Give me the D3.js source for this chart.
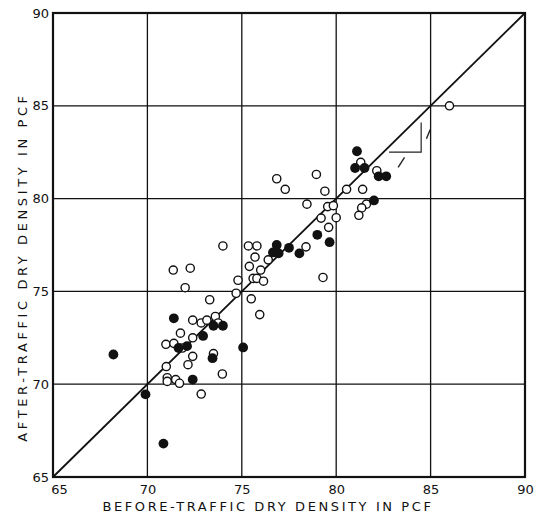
<!DOCTYPE html>
<html>
<head>
<meta charset="utf-8">
<script src="https://cdn.jsdelivr.net/npm/d3@7/dist/d3.min.js"></script>
<style>
  html, body { margin: 0; padding: 0; background: #fff; }
  svg { display: block; }
  text { font-family: "DejaVu Sans", sans-serif; fill: #111; }
</style>
</head>
<body>
<svg id="chart" width="539" height="519"></svg>
<script>
// Before/after traffic dry density (pcf)
const tickValues = [65, 70, 75, 80, 85, 90];
const xTitle = "BEFORE-TRAFFIC DRY DENSITY IN PCF";
const yTitle = "AFTER-TRAFFIC DRY DENSITY IN PCF";

// open circles: [before, after]
const openPoints = [
  [86.0, 85.0], [81.3, 81.95], [82.15, 81.5], [80.55, 80.5], [81.4, 80.5],
  [78.95, 81.3], [76.85, 81.07], [77.3, 80.5], [79.4, 80.4], [78.45, 79.7],
  [79.55, 79.57], [79.85, 79.62], [81.6, 79.7], [81.35, 79.5], [79.2, 78.95],
  [80.0, 78.97], [81.2, 79.1], [79.6, 78.45], [78.4, 77.4], [74.0, 77.45],
  [75.35, 77.45], [75.8, 77.45], [75.7, 76.85], [76.4, 76.7], [75.4, 76.35],
  [76.0, 76.15], [75.6, 75.7], [75.8, 75.7], [76.15, 75.55], [74.8, 75.6],
  [79.3, 75.75], [74.7, 74.9], [75.5, 74.6], [75.95, 73.75], [73.3, 74.55],
  [71.37, 76.15], [72.27, 76.25], [72.0, 75.2], [72.4, 73.45], [72.85, 73.3],
  [73.15, 73.45], [73.6, 73.65], [73.75, 73.3], [71.75, 72.75], [72.4, 72.5],
  [70.98, 72.15], [71.4, 72.2], [71.85, 71.95], [72.4, 71.5], [73.5, 71.65],
  [72.15, 71.05], [71.0, 70.95], [73.97, 70.55], [71.05, 70.35], [71.05, 70.15],
  [71.5, 70.25], [71.7, 70.05], [72.85, 69.47]
];

// filled circles: [before, after]
const filledPoints = [
  [81.1, 82.55], [81.0, 81.65], [81.5, 81.65], [82.25, 81.2], [82.65, 81.2],
  [82.0, 79.9], [79.0, 78.05], [79.65, 77.65], [78.05, 77.05], [77.5, 77.35],
  [76.85, 77.5], [76.65, 77.1], [76.95, 77.05], [71.4, 73.55], [72.95, 72.6],
  [73.5, 73.15], [74.0, 73.15], [72.1, 72.05], [71.65, 71.95], [73.45, 71.4],
  [75.07, 71.98], [72.4, 70.25], [68.2, 71.6], [69.9, 69.45], [70.85, 66.8]
];

// line of equality and the small 1:1 slope mark beneath it
const equalityLine = [[65, 65], [90, 90]];
const slopeMark = [[82.8, 82.5], [84.5, 82.5], [84.5, 84.1]];
const slopeTicks = [
  [[83.28, 81.68], [83.62, 82.22]],
  [[84.78, 83.22], [84.98, 83.72]]
];

const svg = d3.select("#chart");
const plotLeft = 53, plotRight = 525, plotTop = 13, plotBottom = 477;

const x = d3.scaleLinear().domain([65, 90]).range([plotLeft, plotRight]);
const y = d3.scaleLinear().domain([65, 90]).range([plotBottom, plotTop]);

// grid lines
const g = svg.append("g");
g.selectAll("line.vgrid")
  .data(tickValues.slice(1, -1))
  .join("line")
  .attr("class", "vgrid")
  .attr("x1", d => x(d)).attr("x2", d => x(d))
  .attr("y1", plotTop).attr("y2", plotBottom)
  .attr("stroke", "#111").attr("stroke-width", 1.3);
g.selectAll("line.hgrid")
  .data(tickValues.slice(1, -1))
  .join("line")
  .attr("class", "hgrid")
  .attr("y1", d => y(d)).attr("y2", d => y(d))
  .attr("x1", plotLeft).attr("x2", plotRight)
  .attr("stroke", "#111").attr("stroke-width", 1.3);

// axes (labels only)
const xAxis = svg.append("g")
  .attr("transform", `translate(0,${plotBottom})`)
  .call(d3.axisBottom(x).tickValues(tickValues).tickSize(0).tickPadding(8).tickFormat(d3.format("d")));
const yAxis = svg.append("g")
  .attr("transform", `translate(${plotLeft},0)`)
  .call(d3.axisLeft(y).tickValues(tickValues).tickSize(0).tickPadding(4).tickFormat(d3.format("d")));
[xAxis, yAxis].forEach(a => {
  a.select(".domain").remove();
  a.selectAll("text").style("font-size", "13px").style("font-family", "'DejaVu Sans', sans-serif").attr("fill", "#111");
});
// keep the first x label clear of the y label at the corner
xAxis.selectAll(".tick").filter(d => d === 65).select("text").attr("dx", 6);

// plot frame
svg.append("rect")
  .attr("x", plotLeft).attr("y", plotTop)
  .attr("width", plotRight - plotLeft).attr("height", plotBottom - plotTop)
  .attr("fill", "none").attr("stroke", "#111").attr("stroke-width", 2.2);

const line = d3.line().x(d => x(d[0])).y(d => y(d[1]));

svg.append("path")
  .attr("d", line(equalityLine))
  .attr("fill", "none").attr("stroke", "#111").attr("stroke-width", 1.8);

svg.append("path")
  .attr("d", line(slopeMark))
  .attr("fill", "none").attr("stroke", "#222").attr("stroke-width", 1.2);
svg.selectAll("path.slope-tick")
  .data(slopeTicks)
  .join("path")
  .attr("class", "slope-tick")
  .attr("d", d => line(d))
  .attr("fill", "none").attr("stroke", "#222").attr("stroke-width", 1.4);

// points
svg.append("g").selectAll("circle")
  .data(openPoints)
  .join("circle")
  .attr("cx", d => x(d[0])).attr("cy", d => y(d[1]))
  .attr("r", 4.1)
  .attr("fill", "#fff").attr("stroke", "#111").attr("stroke-width", 1.4);

svg.append("g").selectAll("circle")
  .data(filledPoints)
  .join("circle")
  .attr("cx", d => x(d[0])).attr("cy", d => y(d[1]))
  .attr("r", 4.9)
  .attr("fill", "#111");

// axis titles
svg.append("text")
  .attr("x", 268).attr("y", 511)
  .attr("text-anchor", "middle")
  .style("font-size", "13px").style("letter-spacing", "2.6px")
  .text(xTitle);

svg.append("text")
  .attr("transform", "translate(27,267) rotate(-90)")
  .attr("text-anchor", "middle")
  .style("font-size", "13px").style("letter-spacing", "3.6px")
  .text(yTitle);
</script>
</body>
</html>
